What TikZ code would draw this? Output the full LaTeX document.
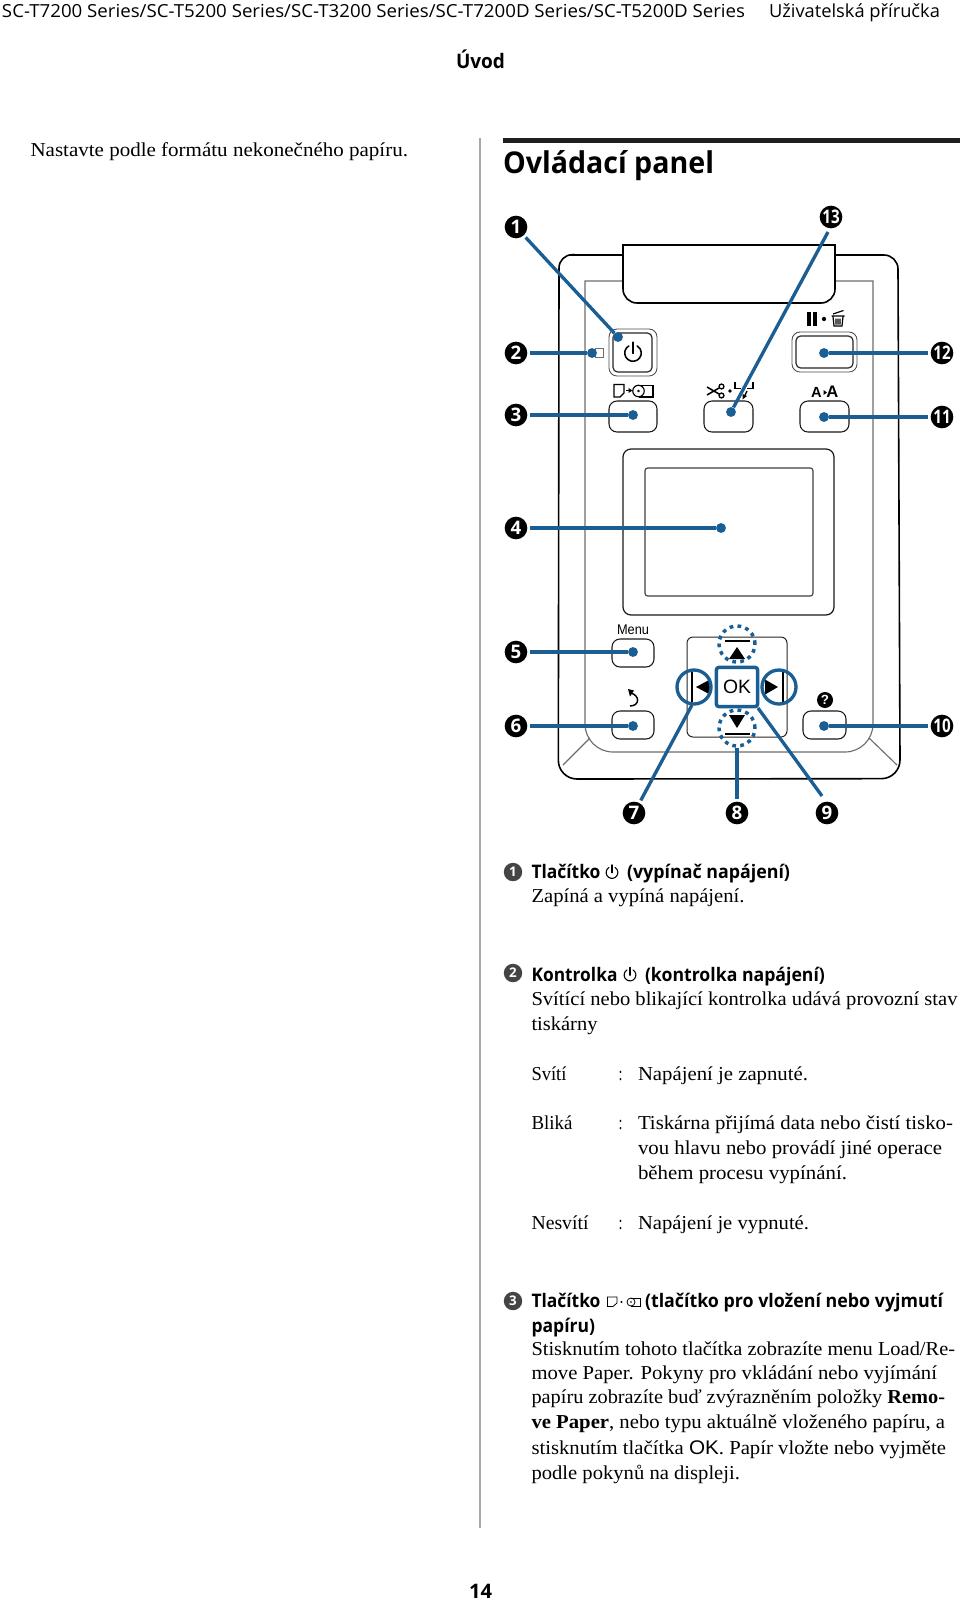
\documentclass[tikz,border=0pt]{standalone}
\usepackage{fontspec}
\usepackage{graphicx}
\setmainfont{Liberation Serif}
\newfontfamily\osans{Open Sans}
\newfontfamily\lsans{Liberation Sans}
\definecolor{leadblue}{HTML}{1A5E94}
\definecolor{barGray}{HTML}{A8A8A8}
\definecolor{panelGray}{HTML}{6E6E6E}
\definecolor{badgeGray}{HTML}{444444}
\newcommand\bodyf{\fontsize{14.8}{17}\selectfont}
\newcommand\boldf{\osans\bfseries\fontsize{14}{16}\selectfont}
\newcommand\headf{\osans\fontsize{13.5}{15}\selectfont}
% name, x, y (baseline), width in px, text
\newcommand\tline[5]{\node[tl] (#1) at (#2,#3) {\resizebox{\dimexpr #4pt*3/4\relax}{\height}{#5}};}
\newcommand\bodyl[5]{\tline{#1}{#2}{#3}{#4}{\bodyf #5}}
\newcommand\boldl[5]{\tline{#1}{#2}{#3}{#4}{\boldf #5}}
\newcommand\powerico[4]{\draw[line width=#4,line cap=round] ([shift={(120:#3)}]#1,#2) arc (120:420:#3);
  \draw[line width=#4,line cap=round] ([shift={(0,1.3*#3)}]#1,#2) -- ([shift={(0,-0.05*#3)}]#1,#2);}
\tikzset{
  tl/.style={anchor=base west,inner sep=0pt,outer sep=0pt},
  badge/.style={circle,fill=black,text=white,inner sep=0pt,minimum size=17pt,outer sep=2.2pt,font=\osans\bfseries\fontsize{14}{14}\selectfont},
  minib/.style={circle,fill=badgeGray,text=white,inner sep=0pt,minimum size=13.8pt,font=\osans\bfseries\fontsize{10}{10}\selectfont},
  tip/.style={circle,fill=leadblue,inner sep=0pt,minimum size=7.4pt},
  lead/.style={draw=leadblue,line width=2.5pt},
  ring/.style={circle,draw=leadblue,line width=2.5pt,inner sep=0pt,minimum size=25.5pt},
  dotring/.style={circle,draw=leadblue,line width=2.6pt,dash pattern=on 2.8pt off 3.2pt,inner sep=0pt,minimum size=27pt},
  btn/.style={draw=black!90,line width=.8pt,rounded corners=6pt},
  thinbtn/.style={draw=black!85,line width=.9pt,rounded corners=3.5pt},
  outerbtn/.style={draw=black!70,line width=.65pt,rounded corners=6pt},
  ico/.style={line width=.85pt,draw=black}
}
\begin{document}
\begin{tikzpicture}[x=0.75pt,y=-0.75pt]
\useasboundingbox (0,0) rectangle (960,1600);
\fill[white] (0,0) rectangle (960,1600);

% page furniture
\tline{hdA}{2}{17}{743}{\headf SC-T7200 Series/SC-T5200 Series/SC-T3200 Series/SC-T7200D Series/SC-T5200D Series}
\tline{hdB}{769}{17}{171}{\headf Uživatelská příručka}
\tline{sec}{456}{68}{49}{\osans\bfseries\fontsize{15}{17}\selectfont Úvod}
\bodyl{nast}{30.5}{156}{377.5}{Nastavte podle formátu nekonečného papíru.}
\draw[barGray,line width=1.6pt] (480,138) -- (480,1528);
\fill[black!88] (503,138) rectangle (960,142.5);
\tline{title}{503}{173}{211}{\osans\bfseries\fontsize{22.5}{24}\selectfont Ovládací panel}
\tline{pg}{469}{1598}{23}{\osans\bfseries\fontsize{15}{16}\selectfont 14}

% panel body
\draw[black,line width=1.2pt]
  (572,255) -- (884,255) arc (90:0:10.5pt) -- (900,760)
  arc (0:-90:14pt) -- (577,779) arc (-90:-180:14pt) -- (559,268) arc (180:90:10pt) -- cycle;
\draw[panelGray,line width=.85pt]
  (585,281) -- (873,281) -- (873,724) arc (0:-90:21pt) -- (613,752) arc (-90:-180:21pt) -- cycle;
\draw[panelGray,line width=.85pt] (590,738) -- (563,765);
\draw[panelGray,line width=.85pt] (869,738) -- (897,765);
% flap
\draw[draw=black,fill=white,line width=1.2pt]
  (623,245) -- (835,245) -- (835,289) arc (0:-90:10.5pt) -- (637,303) arc (-90:-180:10.5pt) -- cycle;

% LED
\draw[panelGray,line width=.6pt] (595,348) rectangle (603,357);
% power button
\draw[outerbtn] (609,329) rectangle (657,376);
\draw[thinbtn] (613,333) rectangle (652,372);
\powerico{633}{353}{6.2pt}{1.15pt}
% buttons under the power row
\draw[btn] (609,401) rectangle (657,432);
\draw[btn] (704,401) rectangle (753,432);
\draw[btn] (800,401) rectangle (849,432);
% pause button
\draw[outerbtn] (792,332) rectangle (857,372);
\draw[thinbtn] (796,336) rectangle (853,368);
% screen
\draw[black!90,line width=.9pt,rounded corners=6pt] (623,449) rectangle (834,615);
\draw[black!75,line width=.85pt,rounded corners=2pt] (645,468) rectangle (813,596);
% menu etc.
\draw[btn] (612,639) rectangle (654,667);
\draw[btn] (612,711) rectangle (654,739);
\draw[btn] (803,711) rectangle (846,739);
\node[anchor=base,inner sep=0pt] (menu) at (633,634) {\resizebox{24pt}{\height}{\lsans\fontsize{10.5}{12}\selectfont Menu}};
% nav pad
\draw[black!85,line width=.75pt,rounded corners=4.5pt] (687,637) rectangle (787,737);
\draw[black,line width=.9pt] (725,641) -- (750,641);
\draw[black,line width=.9pt] (725,734) -- (750,734);
\draw[black,line width=.9pt] (692,672) -- (692,702);
\draw[black,line width=.9pt] (783,672) -- (783,702);
\fill[black] (737,647) -- (745,659) -- (729,659) -- cycle;
\fill[black] (737,728) -- (745,715) -- (729,715) -- cycle;
\fill[black] (696,687) -- (710,679.5) -- (710,694.5) -- cycle;
\fill[black] (778,687) -- (765,679.5) -- (765,694.5) -- cycle;

% icons above the buttons
\fill[black] (806.7,312) rectangle (810.7,326);
\fill[black] (813,312) rectangle (817,326);
\fill[black] (824,319) circle (1.6pt);
\draw[black,line width=.9pt] (833,316.5) -- (834,326) -- (842,326) -- (843,316.5) (831.5,316) -- (844.5,316) (833,314) -- (843.5,310.5)
  (836,318.5) -- (836,324.5) (838,318.5) -- (838,324.5) (840,318.5) -- (840,324.5);
% page to roll
\draw[ico] (614,384.5) -- (624,384.5) -- (624,393) -- (620,397) -- (614,397) -- cycle;
\draw[ico] (626,390.5) -- (629,390.5);
\fill[black] (632.5,390.5) -- (628.5,388) -- (628.5,393) -- cycle;
\draw[ico] (638.5,391) circle (4.3pt);
\draw[ico] (638.5,385.3) -- (653,385.3) -- (653,397) -- (638.5,397);
\fill[black] (638.5,391) circle (1.1pt);
% scissors
\draw[black,line width=1.15pt] (707,387) -- (719,394) (707,395) -- (719,388);
\draw[black,line width=1pt] (721.5,386.5) circle (1.8pt) (721.5,395.5) circle (1.8pt);
\fill[black] (730,391) circle (1.4pt);
\draw[black,line width=1.1pt] (735,382) -- (735,388.5) -- (741,388.5);
\draw[black,line width=1.1pt] (753,382) -- (753,388.5) -- (747,388.5);
\draw[black,line width=1pt] (747,391) -- (744.5,396);
\fill[black] (742.5,399.5) -- (742.5,394) -- (747,396) -- cycle;
% A to A
\node[anchor=base,inner sep=0pt] (aA) at (816.5,397) {\lsans\bfseries\fontsize{11}{12}\selectfont A};
\fill[black] (827,392.5) -- (823.5,390) -- (823.5,395) -- cycle;
\node[anchor=base,inner sep=0pt] (aB) at (832.5,397) {\lsans\bfseries\fontsize{12.5}{12}\selectfont A};
% return
\draw[black,line width=1.1pt] (630.5,693) .. controls (640,695) and (640,706) .. (630,706);
\fill[black] (628,689) -- (634,690.5) -- (630,696.5) -- cycle;
% help
\node[circle,fill=black,text=white,inner sep=0pt,minimum size=12pt,font=\lsans\bfseries\fontsize{10}{10}\selectfont] (help) at (825,700) {?};

% blue highlights
\node[dotring] (dt) at (737,644) {};
\node[dotring] (db) at (737,728) {};
\node[ring] (lc) at (694,687) {};
\node[ring] (rc) at (779,687) {};
\node[draw=leadblue,line width=2.6pt,fill=white,rounded corners=2pt,minimum width=31pt,minimum height=29.5pt,inner sep=0pt,font=\lsans\fontsize{14.5}{14}\selectfont] (ok) at (737,687) {OK};

% badges
\node[badge] (n1) at (516,227) {1};
\node[badge] (n2) at (516,353) {2};
\node[badge] (n3) at (516,415) {3};
\node[badge] (n4) at (516,528) {4};
\node[badge] (n5) at (516,652) {5};
\node[badge] (n6) at (516,726) {6};
\node[badge] (n7) at (634,813) {7};
\node[badge] (n8) at (737,813) {8};
\node[badge] (n9) at (827,813) {9};
\node[badge] (n10) at (942,726) {\resizebox{13pt}{\height}{10}};
\node[badge] (n11) at (942,417) {\resizebox{13pt}{\height}{11}};
\node[badge] (n12) at (942,353) {\resizebox{13pt}{\height}{12}};
\node[badge] (n13) at (831,217) {\resizebox{13pt}{\height}{13}};

% tips
\node[tip] (d1) at (618,337) {};
\node[tip] (d2) at (592,353) {};
\node[tip] (d3) at (633,415) {};
\node[tip] (d4) at (721,528) {};
\node[tip] (d5) at (633,652) {};
\node[tip] (d6) at (633,726) {};
\node[tip] (d10) at (824,726) {};
\node[tip] (d11) at (824,417) {};
\node[tip] (d12) at (824,353) {};
\node[tip] (d13) at (731,412) {};
\coordinate (e7) at (692,705);
\coordinate (e9) at (758,708);
\coordinate (e9b) at (822,796);
\coordinate (e13) at (828,232);

% leaders
\draw[lead] (n1) -- (d1);
\draw[lead] (n2) -- (d2);
\draw[lead] (n3) -- (d3);
\draw[lead] (n4) -- (d4);
\draw[lead] (n5) -- (d5);
\draw[lead] (n6) -- (d6);
\draw[lead] (n7) -- (e7);
\draw[lead] (n8) -- (db);
\draw[lead] (e9b) -- (e9);
\draw[lead] (n10) -- (d10);
\draw[lead] (n11) -- (d11);
\draw[lead] (n12) -- (d12);
\draw[lead] (e13) -- (d13);

% description 1
\node[minib] (m1) at (513,872) {1};
\boldl{a1}{531.5}{878}{69}{Tlačítko}
\powerico{612}{872.5}{4.4pt}{.8pt}
\boldl{a1b}{627}{878}{163}{(vypínač napájení)}
\bodyl{a1c}{531.5}{902}{213}{Zapíná a vypíná napájení.}

% description 2
\node[minib] (m2) at (513,973) {2};
\boldl{a2}{531.5}{981}{86}{Kontrolka}
\powerico{630}{975}{4.4pt}{.8pt}
\boldl{a2b}{645}{981}{180}{(kontrolka napájení)}
\bodyl{a2c}{531.5}{1005}{426}{Svítící nebo blikající kontrolka udává provozní stav}
\bodyl{a2d}{531.5}{1030}{66}{tiskárny}

\bodyl{s1}{531.5}{1080}{35}{Svítí}
\bodyl{s1c}{618.5}{1080}{4}{:}
\bodyl{s1d}{638}{1080}{170}{Napájení je zapnuté.}
\bodyl{s2}{531.5}{1129}{41}{Bliká}
\bodyl{s2c}{618.5}{1129}{4}{:}
\bodyl{s2d}{638}{1129}{315}{Tiskárna přijímá data nebo čistí tisko-}
\bodyl{s2e}{638}{1154}{304}{vou hlavu nebo provádí jiné operace}
\bodyl{s2f}{638}{1179}{209}{během procesu vypínání.}
\bodyl{s3}{531.5}{1229}{57}{Nesvítí}
\bodyl{s3c}{618.5}{1229}{4}{:}
\bodyl{s3d}{638}{1229}{171}{Napájení je vypnuté.}

% description 3
\node[minib] (m3) at (513,1301) {3};
\boldl{a3}{531.5}{1307}{69}{Tlačítko}
\draw[line width=.6pt] (607.5,1297) -- (617,1297) -- (617,1303) -- (613,1306.5) -- (607.5,1306.5) -- cycle;
\fill[black] (621.5,1302) circle (.8pt);
\draw[line width=.6pt] (631,1302) circle (3pt);
\draw[line width=.6pt] (631,1298) -- (640,1298) -- (640,1306) -- (631,1306);
\fill[black] (631,1302) circle (.7pt);
\boldl{a3b}{645}{1307}{298}{(tlačítko pro vložení nebo vyjmutí}
\boldl{a3c}{531.5}{1332}{63.5}{papíru)}
\bodyl{a3d}{531.5}{1355}{423.5}{Stisknutím tohoto tlačítka zobrazíte menu Load/Re-}
\bodyl{a3e}{531.5}{1379}{405.5}{move Paper. Pokyny pro vkládání nebo vyjímání}
\bodyl{a3f}{531.5}{1403}{413.5}{papíru zobrazíte buď zvýrazněním položky \textbf{Remo-}}
\bodyl{a3g}{531.5}{1428}{413.5}{\textbf{ve Paper}, nebo typu aktuálně vloženého papíru, a}
\bodyl{a3h}{531.5}{1454}{414.5}{stisknutím tlačítka {\lsans OK}. Papír vložte nebo vyjměte}
\bodyl{a3i}{531.5}{1479}{208.5}{podle pokynů na displeji.}
\end{tikzpicture}
\end{document}
